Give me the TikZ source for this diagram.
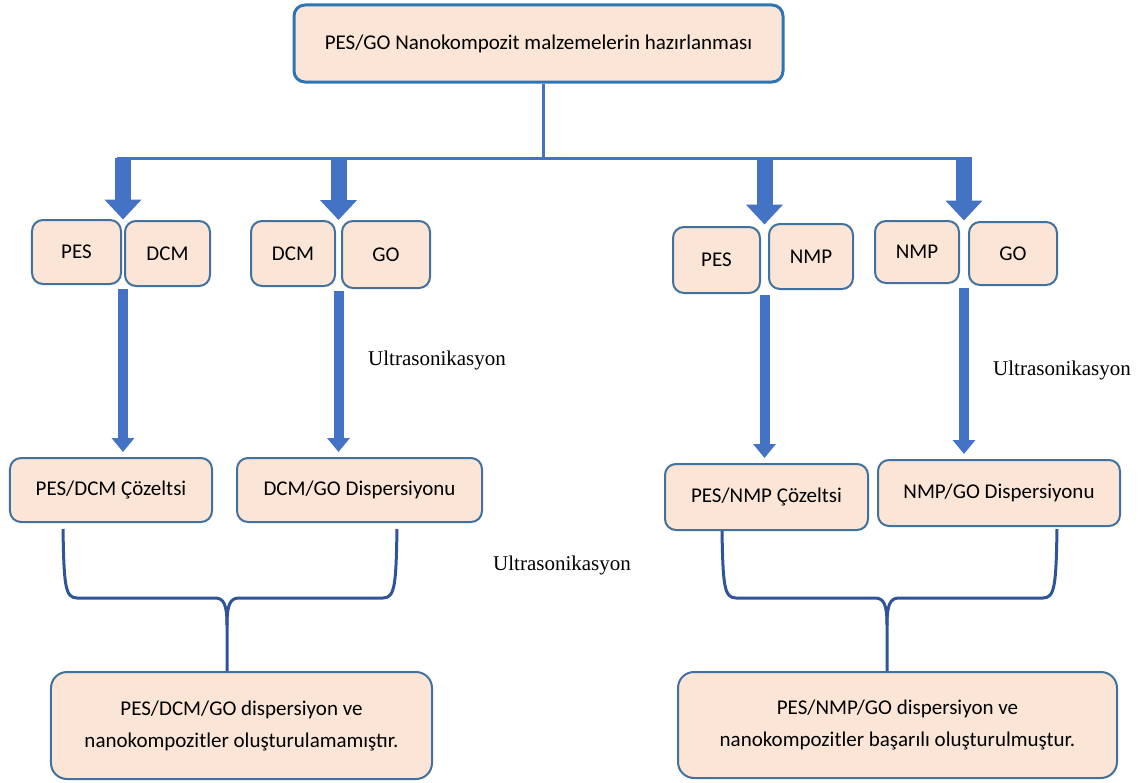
\documentclass[tikz,border=0pt]{standalone}
\usepackage{fontspec}
\setmainfont{Carlito}
\newfontfamily\timesfont{Liberation Serif}
\usetikzlibrary{calc,arrows.meta}
\definecolor{kutufill}{RGB}{251,229,214}
\definecolor{kutuline}{RGB}{65,113,156}
\definecolor{ustline}{RGB}{46,117,182}
\definecolor{okblue}{RGB}{68,114,196}
\definecolor{bracecol}{RGB}{47,85,151}

\begin{document}
\begin{tikzpicture}[x=1bp,y=-1bp,
  kutu/.style={draw=kutuline,fill=kutufill,line width=2bp,rounded corners=11bp,inner sep=0pt,font=\fontsize{21bp}{32bp}\selectfont,align=center},
  kalinok/.style={okblue,line width=16bp,-{Triangle[width=36bp,length=20bp]}},
  inceok/.style={okblue,line width=10bp,-{Triangle[width=22bp,length=14bp]}},
  kume/.style={bracecol,line width=3bp,line join=round},
  etiket/.style={font=\timesfont\fontsize{21bp}{25bp}\selectfont}]
\useasboundingbox (0,0) rectangle (1144,783);
% ust kutu
\node[kutu,draw=ustline,line width=3bp,minimum width=489bp,minimum height=77bp] (baslik) at (538.5,43.5) {PES/GO Nanokompozit malzemelerin hazırlanması};
% ilk sira
\node[kutu,minimum width=89bp,minimum height=64bp] (pesA) at (76.5,252) {PES};
\node[kutu,minimum width=85bp,minimum height=65bp] (dcmA) at (167.5,253.5) {DCM};
\node[kutu,minimum width=84bp,minimum height=65bp] (dcmB) at (293,253.5) {DCM};
\node[kutu,minimum width=88bp,minimum height=67bp] (goB) at (386,254.5) {GO};
\node[kutu,minimum width=87bp,minimum height=66bp] (pesC) at (716.5,260) {PES};
\node[kutu,minimum width=84bp,minimum height=65bp] (nmpC) at (811,256.5) {NMP};
\node[kutu,minimum width=84bp,minimum height=62bp] (nmpD) at (917,252) {NMP};
\node[kutu,minimum width=88bp,minimum height=63bp] (goD) at (1013,253.5) {GO};
% ikinci sira
\node[kutu,minimum width=202bp,minimum height=64bp] (cozA) at (111,490) {PES/DCM Çözeltsi};
\node[kutu,minimum width=245bp,minimum height=64bp] (disA) at (359.5,490) {DCM/GO Dispersiyonu};
\node[kutu,minimum width=203bp,minimum height=66bp] (cozB) at (766.5,497) {PES/NMP Çözeltsi};
\node[kutu,minimum width=242bp,minimum height=66bp] (disB) at (999,493) {NMP/GO Dispersiyonu};
% sonuclar
\node[kutu,rounded corners=16bp,minimum width=381bp,minimum height=107bp] (sonA) at (241.5,725.5) {PES/DCM/GO dispersiyon ve\\nanokompozitler oluşturulamamıştır.};
\node[kutu,rounded corners=16bp,minimum width=439bp,minimum height=106bp] (sonB) at (897.5,725) {PES/NMP/GO dispersiyon ve\\nanokompozitler başarılı oluşturulmuştur.};
\node[etiket] (ultA) at (437,360) {Ultrasonikasyon};
\node[etiket] (ultB) at (1062,370) {Ultrasonikasyon};
\node[etiket] (ultC) at (562,565) {Ultrasonikasyon};
% dallanma
\coordinate (dal) at (543,158);
\coordinate (ucA) at ($(pesA.north east)!0.5!(dcmA.north west)$);
\coordinate (ucB) at ($(dcmB.north east)!0.5!(goB.north west)$);
\coordinate (ucC) at ($(pesC.north east)!0.5!(nmpC.north west)$);
\coordinate (ucD) at ($(nmpD.north east)!0.5!(goD.north west)$);
\draw[okblue,line width=3bp] (baslik.south -| dal) -- (dal);
\draw[okblue,line width=3bp] ($(ucA |- dal)+(-6,0)$) -- ($(ucD |- dal)+(8,0)$);
\draw[kalinok] (ucA |- dal) -- (ucA);
\draw[kalinok] (ucB |- dal) -- (ucB);
\draw[kalinok] (ucC |- dal) -- (ucC);
\draw[kalinok] (ucD |- dal) -- (ucD);
% asagi oklar
\coordinate (altA) at ($(pesA.south east)!0.5!(dcmA.south west)$);
\coordinate (altB) at ($(dcmB.south east)!0.5!(goB.south west)$);
\coordinate (altC) at ($(pesC.south east)!0.5!(nmpC.south west)$);
\coordinate (altD) at ($(nmpD.south east)!0.5!(goD.south west)$);
\draw[inceok] ($(altA)+(0,3)$) -- ($(altA |- cozA.north)+(0,-5)$);
\draw[inceok] ($(altB)+(0,3)$) -- ($(altB |- disA.north)+(0,-5)$);
\draw[inceok] ($(altC)+(0,3)$) -- ($(altC |- cozB.north)+(0,-5)$);
\draw[inceok] ($(altD)+(0,3)$) -- ($(altD |- disB.north)+(0,-5)$);
% parantezler
\coordinate (kA) at (227,625);
\coordinate (kB) at (887,625);
\draw[kume] (63,529) .. controls (64,585) and (65,598) .. (77,598) -- (215,598) .. controls (224,598) and (227,605) .. (kA) -- (kA |- sonA.north);
\draw[kume] (397,529) .. controls (396,585) and (395,598) .. (383,598) -- (239,598) .. controls (230,598) and (227,605) .. (kA);
\draw[kume] (722,531) .. controls (723,585) and (724,598) .. (736,598) -- (875,598) .. controls (884,598) and (887,605) .. (kB) -- (kB |- sonB.north);
\draw[kume] (1057,529) .. controls (1056,585) and (1055,598) .. (1043,598) -- (899,598) .. controls (890,598) and (887,605) .. (kB);
\end{tikzpicture}
\end{document}
